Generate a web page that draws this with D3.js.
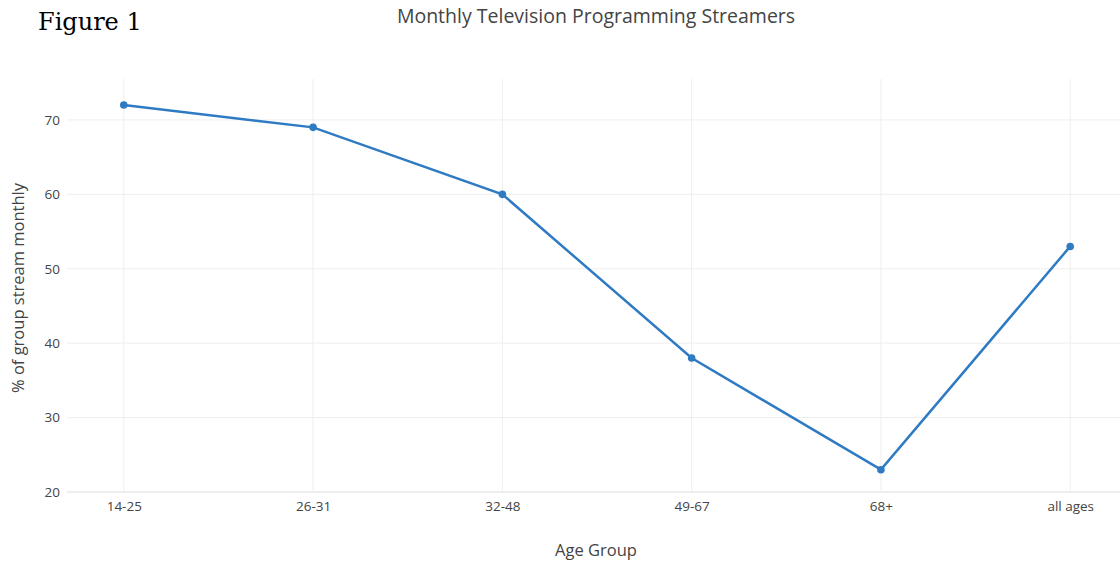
<!DOCTYPE html>
<html>
<head>
<meta charset="utf-8">
<script src="https://cdn.jsdelivr.net/npm/d3@7"></script>
<style>
  body { margin: 0; background: #fff; }
  svg text { font-family: "Open Sans", sans-serif; fill: #444; }
</style>
</head>
<body>
<div id="chart"></div>
<script>
// chart data
var ageGroups = ["14-25", "26-31", "32-48", "49-67", "68+", "all ages"];
var streamPct = [72, 69, 60, 38, 23, 53];
var yTicks = [20, 30, 40, 50, 60, 70];

var width = 1120, height = 563;
var plotLeft = 67, plotRight = 1127, plotTop = 79, plotBottom = 492;

var svg = d3.select("#chart")
  .append("svg")
    .attr("width", width)
    .attr("height", height);

// categorical x, padded like plotly (-0.3 .. 5.3)
var x = d3.scaleLinear()
  .domain([-0.3, ageGroups.length - 1 + 0.3])
  .range([plotLeft, plotRight]);

var y = d3.scaleLinear()
  .domain([20, 75.5])
  .range([plotBottom, plotTop]);

// grid lines
svg.append("g")
  .selectAll("line.vgrid")
  .data(ageGroups)
  .enter().append("line")
    .attr("x1", function(d, i){ return x(i); })
    .attr("x2", function(d, i){ return x(i); })
    .attr("y1", plotTop)
    .attr("y2", plotBottom)
    .attr("stroke", "#eee")
    .attr("stroke-width", 1);

svg.append("g")
  .selectAll("line.hgrid")
  .data(yTicks)
  .enter().append("line")
    .attr("x1", plotLeft)
    .attr("x2", width)
    .attr("y1", function(d){ return y(d); })
    .attr("y2", function(d){ return y(d); })
    .attr("stroke", "#eee")
    .attr("stroke-width", function(d){ return d === 20 ? 2 : 1; });

// y axis labels
var yAxis = d3.axisLeft(y).tickValues(yTicks).tickSize(0).tickPadding(7);
svg.append("g")
  .attr("transform", "translate(" + plotLeft + ",0)")
  .call(yAxis)
  .call(function(g){ g.select(".domain").remove(); })
  .selectAll("text")
    .style("font-size", "13.5px")
    .attr("fill", "#444");

// x axis labels
var xAxis = d3.axisBottom(x)
  .tickValues(d3.range(ageGroups.length))
  .tickFormat(function(i){ return ageGroups[i]; })
  .tickSize(0).tickPadding(9);
svg.append("g")
  .attr("transform", "translate(0," + plotBottom + ")")
  .call(xAxis)
  .call(function(g){ g.select(".domain").remove(); })
  .selectAll("text")
    .style("font-size", "13.5px")
    .attr("fill", "#444");

// the line
var line = d3.line()
  .x(function(d, i){ return x(i); })
  .y(function(d){ return y(d); });

svg.append("path")
  .datum(streamPct)
  .attr("d", line)
  .attr("fill", "none")
  .attr("stroke", "#2f7bc3")
  .attr("stroke-width", 2.5);

svg.append("g")
  .selectAll("circle")
  .data(streamPct)
  .enter().append("circle")
    .attr("cx", function(d, i){ return x(i); })
    .attr("cy", function(d){ return y(d); })
    .attr("r", 3.8)
    .attr("fill", "#2f7bc3");

// titles
svg.append("text")
  .attr("x", 596).attr("y", 23)
  .attr("text-anchor", "middle")
  .style("font-size", "19.5px")
  .text("Monthly Television Programming Streamers");

svg.append("text")
  .attr("x", 596).attr("y", 556)
  .attr("text-anchor", "middle")
  .style("font-size", "16.5px")
  .text("Age Group");

svg.append("text")
  .attr("transform", "translate(24," + 288 + ") rotate(-90)")
  .attr("text-anchor", "middle")
  .style("font-size", "16.5px")
  .text("% of group stream monthly");

svg.append("text")
  .attr("x", 38).attr("y", 30)
  .style("font-family", "'DejaVu Serif', serif")
  .style("font-size", "24px")
  .style("fill", "#000")
  .text("Figure 1");
</script>
</body>
</html>
